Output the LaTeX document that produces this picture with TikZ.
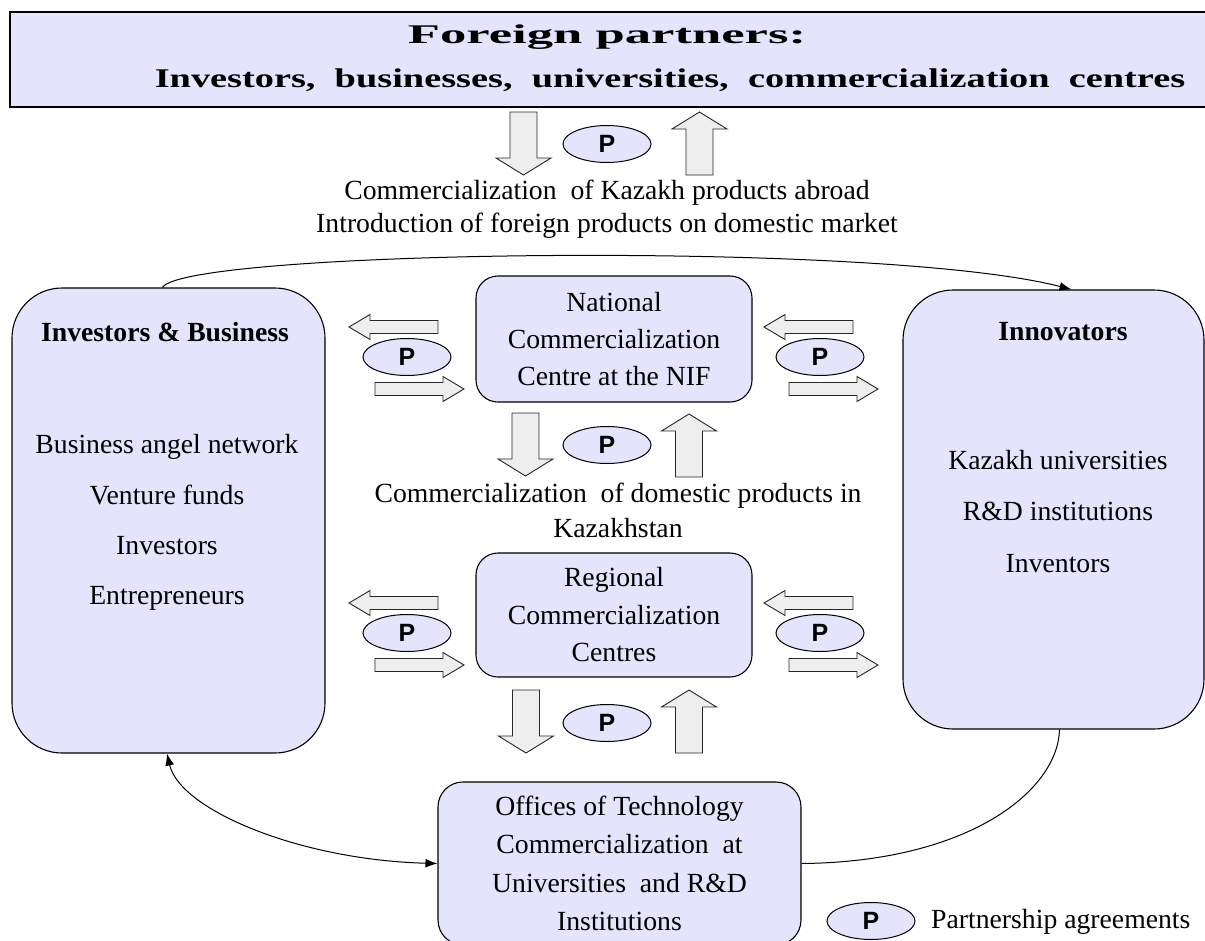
\documentclass[tikz,border=0pt]{standalone}
\usepackage{fontspec}
\setmainfont{Liberation Serif}
\newfontfamily\pfont{Liberation Sans}
\newfontfamily\titlefontA{Liberation Serif}[FakeStretch=1.95]
\newfontfamily\titlefontB{Liberation Serif}[FakeStretch=1.42]
\usetikzlibrary{arrows.meta,shapes.geometric}
\definecolor{lav}{RGB}{228,228,252}
\definecolor{agray}{RGB}{238,238,238}
\begin{document}
\begin{tikzpicture}[x=1pt,y=-1pt,
  txt/.style={font=\fontsize{27.7}{35}\selectfont, align=center, inner sep=0pt},
  btxt/.style={font=\fontsize{27.7}{35}\selectfont\bfseries, align=center, inner sep=0pt},
  bigbox/.style={draw=black, fill=lav, line width=1.1pt, rounded corners=50pt, inner sep=0pt},
  midbox/.style={draw=black, fill=lav, line width=1.1pt, rounded corners=22pt, inner sep=0pt, align=center},
  pnode/.style={ellipse, draw=black, fill=lav, line width=1pt, minimum width=88pt, minimum height=37pt, inner sep=0pt, font=\pfont\bfseries\fontsize{25}{25}\selectfont},
  blk/.style={draw=black!85, fill=agray, line width=0.9pt, line join=miter},
  conn/.style={draw=black, line width=1pt},
  pics/harrow/.style={code={\draw[blk] (0,-6.5) -- (68,-6.5) -- (68,-12.5) -- (89,0) -- (68,12.5) -- (68,6.5) -- (0,6.5) -- cycle;}},
  pics/varrow/.style={code={\draw[blk] (-13.5,0) -- (-13.5,46) -- (-27.5,46) -- (0,63) -- (27.5,46) -- (13.5,46) -- (13.5,0) -- cycle;}}
]
\useasboundingbox (0,0) rectangle (1205,940);

% top box
\node[draw=black, fill=lav, line width=2pt, minimum width=1204pt, minimum height=95pt, inner sep=0pt] (fp) at (612,59.5) {};
\node[font=\titlefontA\bfseries\fontsize{27}{30}\selectfont, inner sep=0pt] (fpa) at (607,37) {Foreign partners:};
\node[font=\titlefontB\bfseries\fontsize{27}{30}\selectfont, inner sep=0pt] (fpb) at (670,80) {Investors,\ \ businesses,\ \ universities,\ \ commercialization\ \ centres};

% top arrows and text
\pic at (523.5,112) {varrow};
\pic[rotate=180] at (699.5,175) {varrow};
\node[pnode] (p1) at (607,144) {P};
\node[txt, font=\fontsize{27.7}{33}\selectfont] (t1) at (607,209.5)
  {Commercialization\ \ of Kazakh products abroad\\Introduction of foreign products on domestic market};

% big boxes
\node[bigbox, minimum width=313pt, minimum height=465pt] (ib) at (168.5,520.5) {};
\node[btxt] (ibt) at (165,332) {Investors \& Business};
\node[txt, font=\fontsize{27.7}{50.3}\selectfont] (ibi) at (167,522.5)
  {Business angel network\\Venture funds\\Investors\\Entrepreneurs};

\node[bigbox, minimum width=301pt, minimum height=439pt] (inn) at (1053.5,509.5) {};
\node[btxt] (innt) at (1063,332) {Innovators};
\node[txt, font=\fontsize{27.7}{51.5}\selectfont] (inni) at (1058,511.5)
  {Kazakh universities\\R\&D institutions\\Inventors};

% middle boxes
\node[midbox, minimum width=276pt, minimum height=126pt, font=\fontsize{27.7}{37}\selectfont] (nat) at (614,339)
  {National\\Commercialization\\Centre at the NIF};
\node[midbox, minimum width=276pt, minimum height=124pt, font=\fontsize{27.7}{37.5}\selectfont] (reg) at (614,615)
  {Regional\\Commercialization\\Centres};
\node[midbox, rounded corners=25pt, minimum width=363pt, minimum height=163pt, font=\fontsize{27.7}{38.3}\selectfont] (off) at (619.5,863.5)
  {Offices of Technology\\Commercialization\ \ at\\Universities\ \ and R\&D\\Institutions};

% middle arrows and text
\pic at (525.5,413) {varrow};
\pic[rotate=180] at (689,477) {varrow};
\node[pnode] (p2) at (607,445) {P};
\node[txt] (t2) at (618,510) {Commercialization\ \ of domestic products in\\Kazakhstan};

% bottom arrows
\pic at (526,690) {varrow};
\pic[rotate=180] at (689,753) {varrow};
\node[pnode] (p3) at (607,723) {P};

% side arrows, national row
\pic[rotate=180] at (438,327) {harrow};
\pic at (375,389) {harrow};
\node[pnode] (p4) at (407,357) {P};
\pic[rotate=180] at (853,327) {harrow};
\pic at (789,389) {harrow};
\node[pnode] (p5) at (820,357) {P};

% side arrows, regional row
\pic[rotate=180] at (438,603) {harrow};
\pic at (375,665) {harrow};
\node[pnode] (p6) at (407,633) {P};
\pic[rotate=180] at (853,603) {harrow};
\pic at (789,665) {harrow};
\node[pnode] (p7) at (820,633) {P};

% connectors
\draw[conn, -{Latex[length=12pt,width=9pt]}] ([xshift=-6pt]ib.north) .. controls (185,250) and (880,240) .. ([xshift=18pt]inn.north);
\draw[conn] ([xshift=6pt]inn.south) .. controls (1058,790) and (970,862) .. (off.east);
\draw[conn, {Latex[length=12pt,width=9pt]}-{Latex[length=12pt,width=9pt]}] ([xshift=-1.5pt]ib.south) .. controls (180,810) and (300,860) .. (off.west);

% legend
\node[pnode] (pl) at (871,921) {P};
\node[txt, anchor=west] (plt) at (931,922) {Partnership agreements};
\end{tikzpicture}
\end{document}
